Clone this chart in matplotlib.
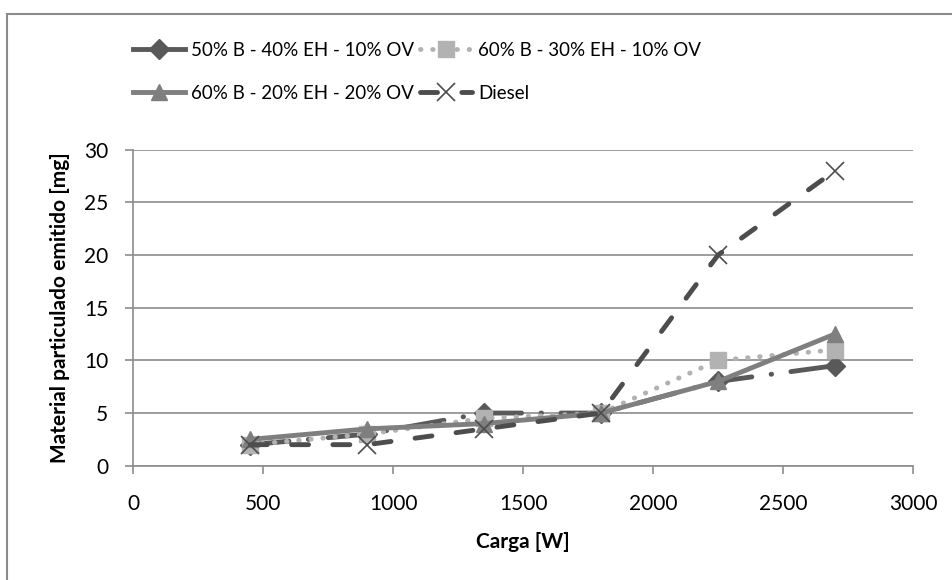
import matplotlib.pyplot as plt
from matplotlib.lines import Line2D
from matplotlib.patches import Rectangle

plt.rcParams['font.family'] = ['Lato', 'DejaVu Sans']

# Data
carga = [450, 900, 1350, 1800, 2250, 2700]
s_50_40_10 = [2, 3, 5, 5, 8, 9.5]
s_60_30_10 = [2, 3, 4.5, 5, 10, 11]
s_60_20_20 = [2.5, 3.5, 4, 5, 8, 12.5]
diesel = [2, 2, 3.5, 5, 20, 28]
labels = ['50% B - 40% EH - 10% OV', '60% B - 30% EH - 10% OV',
          '60% B - 20% EH - 20% OV', 'Diesel']

fig = plt.figure(figsize=(9.52, 5.8), dpi=100)
ax = fig.add_axes([0.140, 0.197, 0.819, 0.545])

l1, = ax.plot(carga, s_50_40_10, color='#595959', linewidth=3.5,
              dashes=(8, 4, 0.1, 4), dash_capstyle='round',
              marker='D', markersize=10, label=labels[0])
l2, = ax.plot(carga, s_60_30_10, color='#b2b2b2', linewidth=3.5,
              dashes=(0.1, 2.4), dash_capstyle='round',
              marker='s', markersize=12, label=labels[1])
l3, = ax.plot(carga, s_60_20_20, color='#7f7f7f', linewidth=3.5,
              marker='^', markersize=12, label=labels[2])
l4, = ax.plot(carga, diesel, color='#4d4d4d', linewidth=3.5,
              dashes=(3.5, 5), dash_capstyle='round',
              marker='x', markersize=13, markeredgewidth=1.2, label=labels[3])

ax.set_xlim(0, 3000)
ax.set_ylim(0, 30)
ax.set_xticks(range(0, 3001, 500))
ax.set_yticks(range(0, 31, 5))
ax.yaxis.grid(True, color='#8c8c8c', linewidth=1.2)
ax.set_axisbelow(True)
for s in ['top', 'right']:
    ax.spines[s].set_visible(False)
for s in ['left', 'bottom']:
    ax.spines[s].set_color('#8c8c8c')
    ax.spines[s].set_linewidth(1.2)
ax.tick_params(axis='both', colors='#8c8c8c', labelcolor='black',
               labelsize=15, length=6, width=1.2, direction='out')
ax.tick_params(axis='x', pad=14)
ax.tick_params(axis='y', pad=12)

ax.set_xlabel('Carga [W]', fontsize=15, fontweight='bold', labelpad=13)
ax.set_ylabel('Material particulado emitido [mg]', fontsize=15,
              fontweight='bold', labelpad=10)

# legend, filled row by row like the original
h1 = Line2D([], [], color='#595959', linewidth=3.5, marker='D', markersize=10)
leg = fig.legend([h1, l3, l2, l4], [labels[0], labels[2], labels[1], labels[3]],
                 ncol=2, loc='upper left', bbox_to_anchor=(0.1397, 0.928),
                 frameon=False, fontsize=13.5, borderpad=0, borderaxespad=0,
                 handlelength=2.8, handletextpad=0.3, columnspacing=0.3,
                 labelspacing=1.4)

fig.patches.append(Rectangle((0.0074, -0.1), 1.2, 1.076, transform=fig.transFigure,
                             fill=False, edgecolor='#8c8c8c', linewidth=1.5))

fig.savefig('out.png', dpi=100)
